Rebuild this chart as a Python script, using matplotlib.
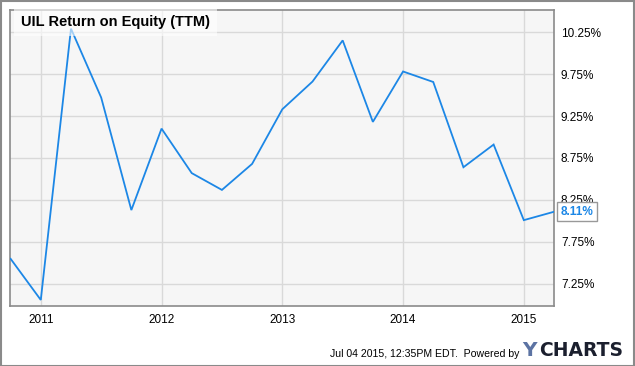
import matplotlib
matplotlib.use("Agg")
import matplotlib.pyplot as plt
from matplotlib.patches import Rectangle

plt.rcParams['font.family'] = ['Liberation Sans', 'DejaVu Sans']

# Data (quarterly, TTM ROE in %)
dates = [2010.75, 2011.0, 2011.25, 2011.5, 2011.75, 2012.0, 2012.25, 2012.5, 2012.75,
         2013.0, 2013.25, 2013.5, 2013.75, 2014.0, 2014.25, 2014.5, 2014.75, 2015.0, 2015.25]
roe = [7.55, 7.06, 10.29, 9.47, 8.13, 9.10, 8.57, 8.37, 8.68,
       9.33, 9.66, 10.15, 9.18, 9.78, 9.655, 8.64, 8.91, 8.01, 8.11]
year_ticks = [2011, 2012, 2013, 2014, 2015]
y_ticks = [7.25, 7.75, 8.25, 8.75, 9.25, 9.75, 10.25]
title = "UIL Return on Equity (TTM)"
last_label = "8.11%"

W, H = 635, 366
fig = plt.figure(figsize=(W / 100, H / 100), dpi=100)
fig.patch.set_facecolor('white')

# outer frame
fig.add_artist(Rectangle((0.5 / W, 0.5 / H), 1 - 1.5 / W, 1 - 1.5 / H, transform=fig.transFigure,
                         fill=False, edgecolor='#8a8a8a', linewidth=1.5))

ax = fig.add_axes([10 / W, (H - 306) / H, (554 - 10) / W, (306 - 10) / H])
ax.set_facecolor('#f6f6f6')
line_color = '#1c87e6'
ax.plot(dates, roe, color=line_color, linewidth=1.3, solid_joinstyle='miter', zorder=3)

ax.set_xlim(2010.745, 2015.25)
ax.set_ylim(6.988, 10.512)
ax.set_xticks(year_ticks)
ax.set_xticklabels([str(y) for y in year_ticks])
ax.set_yticks(y_ticks)
ax.set_yticklabels([f"{v:.2f}%" for v in y_ticks])
ax.yaxis.tick_right()
ax.tick_params(axis='both', length=0, labelsize=8.5, colors='black')
ax.tick_params(axis='y', pad=5)
ax.tick_params(axis='x', pad=6)
ax.grid(True, color='#d9d9d9', linewidth=1)
ax.set_axisbelow(True)
for s in ax.spines.values():
    s.set_color('#8a8a8a')
    s.set_linewidth(1.2)

# title box
ax.text(11 / 544, 1 - 5 / 296, title, transform=ax.transAxes, ha='left', va='top',
        fontsize=10.5, fontweight='bold', color='black', zorder=5,
        bbox=dict(boxstyle='square,pad=0.45', facecolor='white', alpha=0.6, edgecolor='none'))

# last value label
ax.annotate(last_label, xy=(dates[-1], roe[-1]), xytext=(5, 0), textcoords='offset points',
            ha='left', va='center', fontsize=8.5, fontweight='bold', color=line_color,
            annotation_clip=False, zorder=6,
            bbox=dict(boxstyle='square,pad=0.3', facecolor='white', edgecolor='#999999', linewidth=1))

# footer
fig.text(519 / W, 1 - 354 / H, "Jul 04 2015, 12:35PM EDT.  Powered by", ha='right', va='center',
         fontsize=7.6, color='black')
fig.text(522 / W, 1 - 351 / H, "Y", ha='left', va='center', fontsize=14.5, fontweight='bold',
         color='#5c73a3', family='DejaVu Sans')
fig.text(539 / W, 1 - 351 / H, "CHARTS", ha='left', va='center', fontsize=13.5, fontweight='bold',
         color='#1b1f2e', family='DejaVu Sans')

fig.savefig('out.png', dpi=100)
